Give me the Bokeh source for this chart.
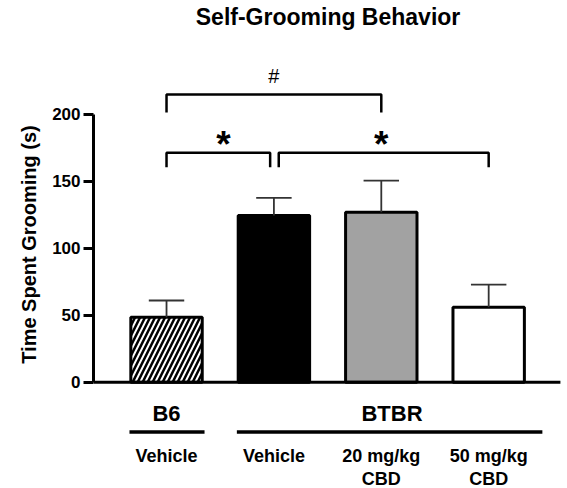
from bokeh.plotting import figure
from bokeh.models import Range1d, FixedTicker, Label, ColumnDataSource
from bokeh.embed import file_html
from bokeh.resources import INLINE

# ---- data ----
conditions_line1 = ["Vehicle", "Vehicle", "20 mg/kg", "50 mg/kg"]
conditions_line2 = ["", "", "CBD", "CBD"]
strains = ["B6", "BTBR"]
strain_members = [[0], [1, 2, 3]]
means = [48.5, 124.4, 126.9, 56.0]
sems = [12.5, 13.2, 23.6, 16.9]
y_ticks = [0, 50, 100, 150, 200]
# comparisons: (from bar, to bar, label, bracket height, arm drop)
comparisons = [(0, 2, "#", 214.7, 13.5), (0, 1, "*", 171.2, 10.8), (1, 3, "*", 171.2, 10.8)]

FONT = "Liberation Sans"
x_pos = list(range(len(means)))

X0, X1 = -0.68, 3.734
p = figure(width=567, height=488, output_backend="svg", toolbar_location=None,
           x_axis_location=None, min_border_left=93, min_border_right=0,
           min_border_top=0, min_border_bottom=0,
           x_range=Range1d(X0, X1), y_range=Range1d(-79.3, 284.85))
p.outline_line_color = None
p.xgrid.visible = False
p.ygrid.visible = False

ax = p.yaxis[0]
ax.bounds = (0, 200)
ax.ticker = FixedTicker(ticks=y_ticks)
ax.axis_line_width = 3
ax.major_tick_line_width = 3
ax.major_tick_out = 10
ax.major_tick_in = 0
ax.minor_tick_line_color = None
ax.major_label_text_font = FONT
ax.major_label_text_font_style = "bold"
ax.major_label_text_font_size = "17px"
ax.major_label_text_color = "black"
ax.major_label_standoff = 3
ax.axis_label = "Time Spent Grooming (s)"
ax.axis_label_text_font = FONT
ax.axis_label_text_font_style = "bold"
ax.axis_label_text_font_size = "20px"
ax.axis_label_standoff = 9
ax.axis_label_text_color = "black"

# bars
src = ColumnDataSource(dict(
    x=x_pos, top=means,
    fill=["white", "black", "#a2a2a2", "white"],
    hatch=["/", " ", " ", " "],
))
p.vbar(x="x", top="top", bottom=0, width=0.665, source=src,
       fill_color="fill", line_color="black", line_width=3,
       hatch_pattern="hatch", hatch_color="black", hatch_scale=10, hatch_weight=2.5)

# error bars (upper only)
err_top = [m + s for m, s in zip(means, sems)]
p.segment(x0=x_pos, y0=means, x1=x_pos, y1=err_top, line_color="#333333", line_width=1.8)
cap = 0.165
p.segment(x0=[x - cap for x in x_pos], y0=err_top, x1=[x + cap for x in x_pos], y1=err_top,
          line_color="#333333", line_width=1.8)

# baseline (x axis line)
p.segment(x0=[X0], y0=[0], x1=[3.668], y1=[0], line_color="black", line_width=3)

# significance brackets
xs, ys = [], []
for a, b, lab, h, d in comparisons:
    xa = a + (0.045 if a == 1 else 0.0)
    xb = b - (0.035 if b == 1 else 0.0)
    xs.append([xa, xa, xb, xb])
    ys.append([h - d, h, h, h - d])
    if lab == "#":
        p.add_layout(Label(x=(a + b) / 2, y=h + 13.5, text=lab, text_align="center",
                           text_baseline="middle", text_font=FONT, text_font_size="20px",
                           text_color="black"))
    else:
        p.add_layout(Label(x=(a + b) / 2 + (0.03 if a == 0 else 0.0), y=h + 6.5, text=lab,
                           text_align="center", text_baseline="middle", text_font=FONT,
                           text_font_style="bold", text_font_size="37px", text_color="black"))
p.multi_line(xs=xs, ys=ys, line_color="black", line_width=2.5)

# title
p.add_layout(Label(x=1.504, y=272.5, text="Self-Grooming Behavior", text_align="center",
                   text_baseline="middle", text_font=FONT, text_font_style="bold",
                   text_font_size="23px", text_color="black"))

# strain group labels and underlines
for name, members in zip(strains, strain_members):
    cx = sum(members) / len(members) + (0.1 if len(members) > 1 else 0.0)
    x0 = min(members) - 0.345
    x1 = max(members) + (0.354 if len(members) == 1 else 0.50)
    p.segment(x0=[x0], y0=[-37.2], x1=[x1], y1=[-37.2], line_color="black", line_width=3.5)
    p.add_layout(Label(x=cx, y=-23.7, text=name, text_align="center", text_baseline="middle",
                       text_font=FONT, text_font_style="bold", text_font_size="22px",
                       text_color="black"))

# condition labels
for x, l1, l2 in zip(x_pos, conditions_line1, conditions_line2):
    p.add_layout(Label(x=x, y=-55.1, text=l1, text_align="center", text_baseline="middle",
                       text_font=FONT, text_font_style="bold", text_font_size="18px",
                       text_color="black"))
    if l2:
        p.add_layout(Label(x=x, y=-71.9, text=l2, text_align="center", text_baseline="middle",
                           text_font=FONT, text_font_style="bold", text_font_size="18px",
                           text_color="black"))

open("out.html", "w").write(file_html(p, INLINE))
